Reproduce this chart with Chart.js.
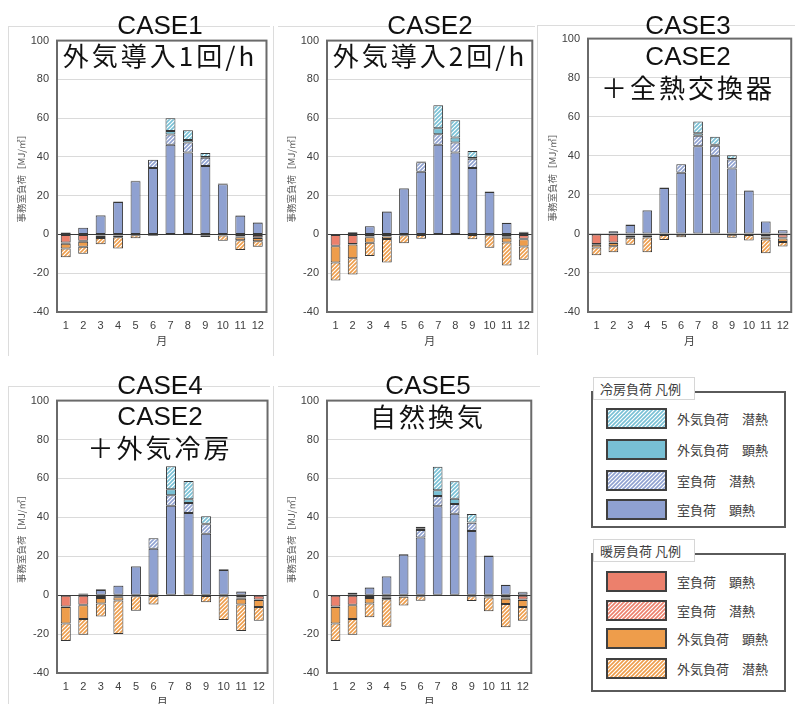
<!DOCTYPE html>
<html>
<head>
<meta charset="utf-8">
<script src="https://cdn.jsdelivr.net/npm/chart.js@4.4.1/dist/chart.umd.min.js"></script>
<style>
  html, body { margin: 0; padding: 0; background: #fff; }
  body { position: relative; width: 795px; height: 704px; overflow: hidden;
         font-family: "Noto Sans CJK JP", sans-serif; }
  canvas { position: absolute; }
  .t { position: absolute; transform: translate(-50%, -50%); white-space: nowrap;
       color: #111; line-height: 1; }
  .case { font-family: "Liberation Sans", Arial, sans-serif; font-size: 26px; }
  .sub { font-family: "Noto Sans CJK JP", sans-serif; font-size: 26px; letter-spacing: 3px; }
  .frame { position: absolute; background: #dcdcdc; }
  .lgbox { position: absolute; border: 2px solid #5a5a5a; box-sizing: border-box; }
  .lgtitle { position: absolute; background: #fff; border: 1px solid #d6d6d6; box-sizing: border-box;
             font-size: 13px; color: #404040; padding-left: 6px; line-height: 21px; }
  .lgtext { position: absolute; font-size: 13px; color: #404040; line-height: 1;
            transform: translateY(-50%); white-space: nowrap; }
</style>
</head>
<body>
<script>
// ---- categories and ticks ----
const months = ['1', '2', '3', '4', '5', '6', '7', '8', '9', '10', '11', '12'];
const yMin = -40, yMax = 100, yStep = 20;

// ---- CASE1: 外気導入1回/h ----
const case1CoolRoomSensible = [1.0, 3.4, 9.8, 16.8, 27.4, 34.3, 46.3, 42.3, 35.3, 25.9, 9.6, 6.1];
const case1CoolRoomLatent   = [0, 0, 0.3, 0.2, 0.3, 4.3, 5.3, 5.2, 4.3, 0.4, 0.3, 0.2];
const case1CoolOASensible   = [0, 0, 0, 0, 0, 0, 1.8, 1.2, 0.4, 0, 0, 0];
const case1CoolOALatent     = [0, 0, 0, 0, 0, 0, 6.6, 5.1, 2.0, 0, 0, 0];
const case1HeatRoomSensible = [-4.2, -3.3, -0.5, -0.3, -0.1, -0.1, 0, 0, -0.1, -0.2, -1.0, -1.5];
const case1HeatRoomLatent   = [-0.6, -0.5, -0.3, -0.3, -0.1, -0.1, 0, 0, -0.1, -0.1, -0.5, -0.3];
const case1HeatOASensible   = [-2.5, -2.5, -1.0, -0.8, -0.2, -0.2, 0, 0, -0.2, -0.3, -1.5, -1.7];
const case1HeatOALatent     = [-4.5, -3.7, -3.2, -5.8, -1.6, -0.4, 0, 0, -0.9, -2.6, -5.0, -2.8];

// ---- CASE2: 外気導入2回/h ----
const case2CoolRoomSensible = [0.3, 1.2, 4.2, 11.7, 23.7, 32.3, 46.3, 42.3, 34.3, 21.9, 5.9, 1.2];
const case2CoolRoomLatent   = [0, 0, 0.2, 0.3, 0.3, 5.0, 5.4, 5.2, 4.8, 0.3, 0.2, 0.2];
const case2CoolOASensible   = [0, 0, 0, 0, 0, 0.3, 3.1, 2.5, 0.3, 0, 0, 0];
const case2CoolOALatent     = [0, 0, 0, 0, 0, 0, 11.8, 8.9, 3.6, 0, 0, 0];
const case2HeatRoomSensible = [-5.8, -4.9, -1.0, -0.8, -0.1, -0.1, 0, 0, -0.1, -0.1, -1.2, -2.2];
const case2HeatRoomLatent   = [-0.3, -0.3, -0.4, -0.3, -0.1, 0, 0, 0, 0, -0.1, -0.5, -0.3];
const case2HeatOASensible   = [-8.4, -7.1, -2.9, -1.2, -0.2, -0.2, 0, 0, -0.2, -0.2, -2.5, -3.7];
const case2HeatOALatent     = [-9.2, -8.4, -6.8, -12.2, -4.2, -1.9, 0, 0, -2.2, -6.4, -11.8, -6.9];

// ---- CASE3: CASE2＋全熱交換器 ----
const case3CoolRoomSensible = [0.3, 1.3, 4.5, 12.0, 23.5, 31.3, 44.9, 40.0, 33.5, 22.1, 6.3, 1.8];
const case3CoolRoomLatent   = [0, 0.2, 0.3, 0.2, 0.3, 4.4, 5.3, 5.1, 4.6, 0.3, 0.2, 0.2];
const case3CoolOASensible   = [0, 0, 0, 0, 0, 0, 1.3, 0.5, 0.3, 0, 0, 0];
const case3CoolOALatent     = [0, 0, 0, 0, 0, 0, 6.0, 4.2, 1.9, 0, 0, 0];
const case3HeatRoomSensible = [-5.2, -4.4, -0.8, -0.6, -0.2, -0.1, 0, 0, -0.1, -0.2, -1.3, -2.0];
const case3HeatRoomLatent   = [-0.3, -0.3, -0.3, -0.3, -0.1, -0.1, 0, 0, -0.1, -0.1, -0.4, -0.3];
const case3HeatOASensible   = [-1.5, -1.6, -0.9, -1.0, -0.3, -0.2, 0, 0, -0.2, -0.3, -1.2, -1.8];
const case3HeatOALatent     = [-4.0, -3.1, -3.6, -7.5, -2.5, -1.3, 0, 0, -1.6, -2.8, -7.0, -2.4];

// ---- CASE4: CASE2＋外気冷房 ----
const case4CoolRoomSensible = [0, 0.6, 2.7, 4.8, 14.7, 23.8, 46.0, 42.2, 31.6, 13.0, 1.8, 0.2];
const case4CoolRoomLatent   = [0, 0.2, 0.3, 0.2, 0.3, 5.5, 5.4, 5.2, 4.8, 0.3, 0.2, 0];
const case4CoolOASensible   = [0, 0, 0, 0, 0, 0, 3.0, 1.9, 0.3, 0, 0, 0];
const case4CoolOALatent     = [0, 0, 0, 0, 0, 0, 11.9, 9.4, 3.8, 0, 0, 0];
const case4HeatRoomSensible = [-5.8, -4.9, -1.0, -0.8, -0.2, -0.1, 0, 0, -0.1, -0.2, -1.2, -2.2];
const case4HeatRoomLatent   = [-0.3, -0.3, -0.4, -0.3, -0.1, -0.1, 0, 0, -0.1, -0.1, -0.6, -0.3];
const case4HeatOASensible   = [-8.4, -7.0, -2.9, -1.7, -0.3, -0.2, 0, 0, -0.2, -0.3, -3.0, -3.6];
const case4HeatOALatent     = [-9.0, -8.2, -6.7, -17.1, -7.4, -4.4, 0, 0, -3.3, -12.2, -13.6, -7.0];

// ---- CASE5: 自然換気 ----
const case5CoolRoomSensible = [0, 1.2, 3.8, 9.6, 20.8, 29.6, 45.7, 41.8, 33.0, 20.1, 5.2, 1.5];
const case5CoolRoomLatent   = [0, 0.2, 0.3, 0.3, 0.3, 3.9, 5.3, 5.0, 4.2, 0.3, 0.2, 0.2];
const case5CoolOASensible   = [0, 0, 0, 0, 0, 0.9, 2.9, 2.7, 0.2, 0, 0, 0];
const case5CoolOALatent     = [0, 0, 0, 0, 0, 0.8, 12.1, 9.0, 4.3, 0, 0, 0];
const case5HeatRoomSensible = [-5.8, -4.9, -1.0, -0.5, -0.2, -0.1, 0, 0, -0.1, -0.3, -1.2, -2.2];
const case5HeatRoomLatent   = [-0.3, -0.3, -0.4, -0.8, -0.3, -0.2, 0, 0, -0.1, -0.3, -0.6, -0.3];
const case5HeatOASensible   = [-8.4, -7.0, -2.9, -0.8, -0.3, -0.3, 0, 0, -0.3, -0.6, -2.8, -3.6];
const case5HeatOALatent     = [-9.0, -8.2, -7.1, -14.1, -4.5, -2.3, 0, 0, -2.5, -7.0, -11.9, -7.0];

// ---- colours ----
const BLUE = '#8fa1d1';   // 室負荷（冷房）
const TEAL = '#78c0d5';   // 外気負荷（冷房）
const SALMON = '#ec806c'; // 室負荷（暖房）
const ORANGE = '#ee9d4b'; // 外気負荷（暖房）
const EDGE = '#363636';

function hatch(color) {
  const s = 4;
  const c = document.createElement('canvas');
  c.width = s; c.height = s;
  const g = c.getContext('2d');
  g.fillStyle = '#fff';
  g.fillRect(0, 0, s, s);
  g.strokeStyle = color;
  g.lineWidth = 1.6;
  g.beginPath();
  g.moveTo(0, s); g.lineTo(s, 0);
  g.moveTo(-1, 1); g.lineTo(1, -1);
  g.moveTo(s - 1, s + 1); g.lineTo(s + 1, s - 1);
  g.stroke();
  return g.createPattern(c, 'repeat');
}

// stacking order: nearest to zero first
const seriesStyles = [
  { label: '冷房 室負荷 顕熱',   fill: BLUE },
  { label: '冷房 室負荷 潜熱',   fill: hatch(BLUE) },
  { label: '冷房 外気負荷 顕熱', fill: TEAL },
  { label: '冷房 外気負荷 潜熱', fill: hatch(TEAL) },
  { label: '暖房 室負荷 顕熱',   fill: SALMON },
  { label: '暖房 室負荷 潜熱',   fill: hatch(SALMON) },
  { label: '暖房 外気負荷 顕熱', fill: ORANGE },
  { label: '暖房 外気負荷 潜熱', fill: hatch(ORANGE) }
];

const cases = [
  [case1CoolRoomSensible, case1CoolRoomLatent, case1CoolOASensible, case1CoolOALatent,
   case1HeatRoomSensible, case1HeatRoomLatent, case1HeatOASensible, case1HeatOALatent],
  [case2CoolRoomSensible, case2CoolRoomLatent, case2CoolOASensible, case2CoolOALatent,
   case2HeatRoomSensible, case2HeatRoomLatent, case2HeatOASensible, case2HeatOALatent],
  [case3CoolRoomSensible, case3CoolRoomLatent, case3CoolOASensible, case3CoolOALatent,
   case3HeatRoomSensible, case3HeatRoomLatent, case3HeatOASensible, case3HeatOALatent],
  [case4CoolRoomSensible, case4CoolRoomLatent, case4CoolOASensible, case4CoolOALatent,
   case4HeatRoomSensible, case4HeatRoomLatent, case4HeatOASensible, case4HeatOALatent],
  [case5CoolRoomSensible, case5CoolRoomLatent, case5CoolOASensible, case5CoolOALatent,
   case5HeatRoomSensible, case5HeatRoomLatent, case5HeatOASensible, case5HeatOALatent]
];

const caseTitles = [
  ['CASE1', '外気導入1回/h'],
  ['CASE2', '外気導入2回/h'],
  ['CASE3', 'CASE2', '＋全熱交換器'],
  ['CASE4', 'CASE2', '＋外気冷房'],
  ['CASE5', '自然換気']
];

// plot-area rectangles [left, top, right, bottom] and title line centres
const layouts = [
  { area: [57, 39, 268, 312], cx: 160, lines: [25, 55] },
  { area: [327, 39, 534, 312], cx: 430, lines: [25, 55] },
  { area: [588, 37, 793, 312], cx: 688, lines: [25, 56, 87] },
  { area: [57, 399, 269, 673], cx: 160, lines: [385, 416, 447] },
  { area: [327, 399, 533, 673], cx: 428, lines: [385, 416] }
];

// faint outer borders of each chart object
const frames = [
  [8, 26, 262, 1], [8, 26, 1, 330],
  [278, 26, 257, 1], [273, 26, 1, 330],
  [537, 25, 258, 1], [537, 25, 1, 330],
  [8, 386, 262, 1], [8, 386, 1, 318],
  [278, 386, 262, 1], [273, 386, 1, 318]
];
frames.forEach(([x, y, w, h]) => {
  const d = document.createElement('div');
  d.className = 'frame';
  Object.assign(d.style, { left: x + 'px', top: y + 'px', width: w + 'px', height: h + 'px' });
  document.body.appendChild(d);
});

const AXIS_W = 58, PAD_TOP = 13, AXIS_H = 44, PAD_RIGHT = 3;

const plotFrame = {
  id: 'plotFrame',
  afterDatasetsDraw(chart) {
    const { ctx, chartArea: a, scales: { y } } = chart;
    const y0 = Math.round(y.getPixelForValue(0)) + 0.5;
    ctx.save();
    ctx.strokeStyle = '#3a3a3a';
    ctx.lineWidth = 1;
    ctx.beginPath();
    ctx.moveTo(a.left, y0);
    ctx.lineTo(a.right, y0);
    ctx.stroke();
    ctx.restore();
  },
  afterDraw(chart) {
    const { ctx, chartArea: a } = chart;
    ctx.save();
    ctx.strokeStyle = '#6a6a6a';
    ctx.lineWidth = 2;
    ctx.strokeRect(a.left, a.top, a.right - a.left, a.bottom - a.top);
    ctx.restore();
  }
};

cases.forEach((series, i) => {
  const L = layouts[i];
  const [l, t, r, b] = L.area;
  const cv = document.createElement('canvas');
  const w = (r - l) + AXIS_W + PAD_RIGHT;
  const h = (b - t) + PAD_TOP + AXIS_H;
  cv.width = w; cv.height = h;
  cv.style.left = (l - AXIS_W) + 'px';
  cv.style.top = (t - PAD_TOP) + 'px';
  cv.style.width = w + 'px';
  cv.style.height = h + 'px';
  document.body.appendChild(cv);

  new Chart(cv, {
    type: 'bar',
    data: {
      labels: months,
      datasets: series.map((vals, k) => ({
        label: seriesStyles[k].label,
        data: vals,
        backgroundColor: seriesStyles[k].fill,
        borderColor: EDGE,
        borderWidth: 1,
        borderSkipped: false,
        barPercentage: 0.57,
        categoryPercentage: 1
      }))
    },
    options: {
      responsive: false,
      animation: false,
      devicePixelRatio: 1,
      layout: { padding: { top: PAD_TOP, right: PAD_RIGHT, left: 0, bottom: 0 } },
      plugins: { legend: { display: false }, tooltip: { enabled: false } },
      scales: {
        x: {
          stacked: true,
          grid: { display: false, drawTicks: false },
          border: { display: false },
          ticks: { padding: 7, color: '#404040', maxRotation: 0, autoSkip: false,
                   font: { family: 'Liberation Sans, Arial, sans-serif', size: 11 } },
          title: { display: true, text: '月', color: '#404040', padding: { top: 0, bottom: 9 },
                   font: { family: 'Noto Sans CJK JP, sans-serif', size: 11 } },
          afterFit(s) { s.height = AXIS_H; }
        },
        y: {
          stacked: true,
          min: yMin, max: yMax,
          grid: { color: '#dadada', drawTicks: false },
          border: { display: false },
          ticks: { stepSize: yStep, padding: 8, color: '#404040',
                   font: { family: 'Liberation Sans, Arial, sans-serif', size: 11 } },
          title: { display: true, text: '事務室負荷［MJ/㎡］', color: '#595959',
                   padding: { top: 17, bottom: 0 },
                   font: { family: 'Noto Sans CJK JP, sans-serif', size: 9.5 } },
          afterFit(s) { s.width = AXIS_W; }
        }
      }
    },
    plugins: [plotFrame]
  });

  caseTitles[i].forEach((txt, j) => {
    const d = document.createElement('div');
    d.className = 't ' + (/^CASE/.test(txt) ? 'case' : 'sub');
    d.textContent = txt;
    d.style.left = L.cx + 'px';
    d.style.top = L.lines[j] + 'px';
    document.body.appendChild(d);
  });
});

// ---- legend panels ----
const coolLegend = [
  { text: '外気負荷　潜熱', fill: () => hatch(TEAL) },
  { text: '外気負荷　顕熱', fill: () => TEAL },
  { text: '室負荷　潜熱',   fill: () => hatch(BLUE) },
  { text: '室負荷　顕熱',   fill: () => BLUE }
];
const heatLegend = [
  { text: '室負荷　顕熱',   fill: () => SALMON },
  { text: '室負荷　潜熱',   fill: () => hatch(SALMON) },
  { text: '外気負荷　顕熱', fill: () => ORANGE },
  { text: '外気負荷　潜熱', fill: () => hatch(ORANGE) }
];
const legendBoxes = [
  { title: '冷房負荷 凡例', box: [591, 391, 195, 137], titleTop: 377, rows: [418, 449, 480, 509], items: coolLegend },
  { title: '暖房負荷 凡例', box: [591, 553, 195, 139], titleTop: 539, rows: [581, 610, 638, 668], items: heatLegend }
];
legendBoxes.forEach(g => {
  const box = document.createElement('div');
  box.className = 'lgbox';
  Object.assign(box.style, { left: g.box[0] + 'px', top: g.box[1] + 'px',
                             width: g.box[2] + 'px', height: g.box[3] + 'px' });
  document.body.appendChild(box);

  const tt = document.createElement('div');
  tt.className = 'lgtitle';
  tt.textContent = g.title;
  Object.assign(tt.style, { left: '593px', top: g.titleTop + 'px', width: '102px', height: '23px' });
  document.body.appendChild(tt);

  g.items.forEach((it, k) => {
    const cy = g.rows[k];
    const sw = document.createElement('canvas');
    sw.width = 61; sw.height = 21;
    sw.style.left = '606px';
    sw.style.top = (cy - 10) + 'px';
    document.body.appendChild(sw);
    const c = sw.getContext('2d');
    c.fillStyle = it.fill();
    c.fillRect(0, 0, 61, 21);
    c.strokeStyle = '#404040';
    c.lineWidth = 2;
    c.strokeRect(1, 1, 59, 19);

    const tx = document.createElement('div');
    tx.className = 'lgtext';
    tx.textContent = it.text;
    tx.style.left = '677px';
    tx.style.top = cy + 'px';
    document.body.appendChild(tx);
  });
});
</script>
</body>
</html>
